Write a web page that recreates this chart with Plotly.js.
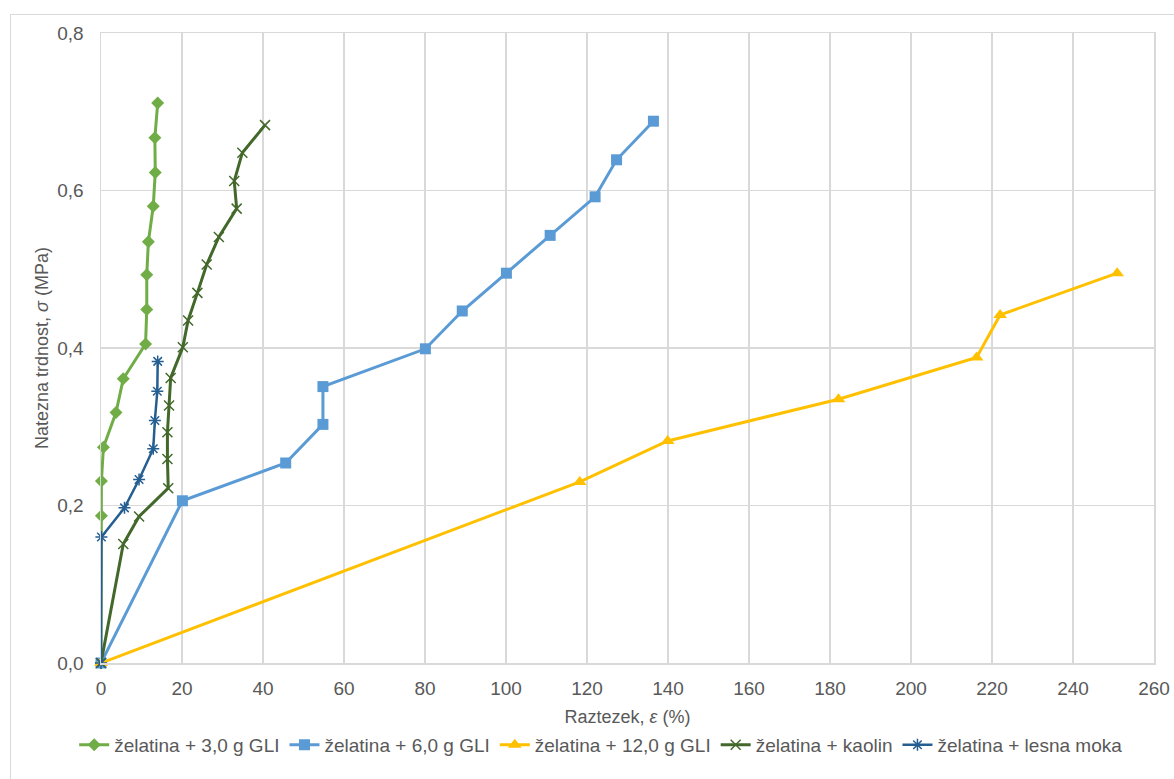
<!DOCTYPE html>
<html>
<head>
<meta charset="utf-8">
<script src="https://cdn.plot.ly/plotly-3.0.1.min.js"></script>
<style>
  html, body { margin: 0; padding: 0; background: #fff; }
  #frame { position: absolute; left: 10px; top: 14px; width: 1200px; height: 800px; border: 1px solid #d9d9d9; box-sizing: border-box; }
  #chart { position: absolute; left: 0; top: 0; width: 1174px; height: 779px; }
</style>
</head>
<body>
<div id="frame"></div>
<div id="chart"></div>
<script>
const names = [
  "želatina + 3,0 g GLI",
  "želatina + 6,0 g GLI",
  "želatina + 12,0 g GLI",
  "želatina + kaolin",
  "želatina + lesna moka"
];

const gli3_x = [0, 0.1, 0.1, 0.6, 3.7, 5.5, 11.0, 11.3, 11.3, 11.7, 12.9, 13.4, 13.3, 14.0];
const gli3_y = [0, 0.187, 0.231, 0.274, 0.318, 0.361, 0.405, 0.449, 0.493, 0.535, 0.580, 0.623, 0.667, 0.711];

const gli6_x = [0, 20.1, 45.6, 54.8, 54.8, 80.1, 89.2, 100.1, 110.9, 122.0, 127.3, 136.4];
const gli6_y = [0, 0.206, 0.254, 0.303, 0.351, 0.399, 0.447, 0.495, 0.543, 0.592, 0.639, 0.688];

const gli12_x = [0, 118.2, 139.9, 182.1, 216.2, 222.0, 250.9];
const gli12_y = [0, 0.230, 0.282, 0.335, 0.388, 0.442, 0.495];

const kaolin_x = [0, 5.5, 9.4, 16.6, 16.4, 16.4, 16.8, 17.2, 20.2, 21.5, 23.8, 26.1, 29.1, 33.5, 32.9, 34.9, 40.5];
const kaolin_y = [0, 0.151, 0.186, 0.222, 0.259, 0.293, 0.327, 0.362, 0.401, 0.435, 0.470, 0.506, 0.541, 0.577, 0.612, 0.648, 0.683];

const moka_x = [0, 0.1, 5.8, 9.4, 12.9, 13.3, 13.9, 14.0];
const moka_y = [0, 0.160, 0.197, 0.233, 0.272, 0.308, 0.345, 0.383];

const xTicks = [0, 20, 40, 60, 80, 100, 120, 140, 160, 180, 200, 220, 240, 260];
const yTicks = [0, 0.2, 0.4, 0.6, 0.8];

const colors = ["#70AD47", "#5B9BD5", "#FFC000", "#43682B", "#255E91"];
const symbols = ["diamond", "square", "triangle-up", "x-thin-open", "asterisk-open"];
const sizes = [10, 11, 12, 10, 10];
const widths = [3, 3, 3, 3, 2.5];
const xs = [gli3_x, gli6_x, gli12_x, kaolin_x, moka_x];
const ys = [gli3_y, gli6_y, gli12_y, kaolin_y, moka_y];

const traces = names.map((n, i) => ({
  type: "scatter",
  mode: "lines+markers",
  name: n,
  x: xs[i],
  y: ys[i],
  line: { color: colors[i], width: widths[i] },
  marker: { color: colors[i], symbol: symbols[i], size: sizes[i],
            line: { color: colors[i], width: (i >= 3 ? 1.5 : 0) } },
  cliponaxis: false
}));

const layout = {
  width: 1174,
  height: 779,
  paper_bgcolor: "rgba(0,0,0,0)",
  plot_bgcolor: "#fff",
  separators: ", ",
  margin: { l: 101, r: 20, t: 33, b: 116 },
  font: { family: "Liberation Sans, Arial, sans-serif", color: "#595959", size: 18 },
  showlegend: true,
  legend: {
    orientation: "h",
    x: 0.475, xanchor: "center",
    y: -0.13, yanchor: "middle",
    font: { size: 19, color: "#595959" },
    itemwidth: 30,
    tracegroupgap: 0
  },
  xaxis: {
    range: [0, 260],
    tickvals: xTicks,
    ticktext: xTicks.map(String),
    showgrid: true,
    gridcolor: "#d9d9d9",
    gridwidth: 1.5,
    zeroline: false,
    showline: true,
    linecolor: "#d9d9d9",
    linewidth: 1.5,
    mirror: true,
    ticks: "",
    ticklabelstandoff: 8,
    tickfont: { size: 19, color: "#595959" },
    title: { text: "Raztezek, <i>ε</i> (%)", font: { size: 18, color: "#595959" }, standoff: 12 }
  },
  yaxis: {
    range: [0, 0.8],
    tickvals: yTicks,
    ticktext: yTicks.map(v => v.toFixed(1).replace(".", ",")),
    showgrid: true,
    gridcolor: "#d9d9d9",
    gridwidth: 1.5,
    zeroline: false,
    showline: true,
    linecolor: "#d9d9d9",
    linewidth: 1.5,
    mirror: true,
    ticks: "",
    ticklabelstandoff: 12,
    tickfont: { size: 19, color: "#595959" },
    title: { text: "Natezna trdnost, <i>σ</i> (MPa)", font: { size: 18, color: "#595959" }, standoff: 4 }
  }
};

Plotly.newPlot("chart", traces, layout, { displayModeBar: false, staticPlot: true });
</script>
</body>
</html>
